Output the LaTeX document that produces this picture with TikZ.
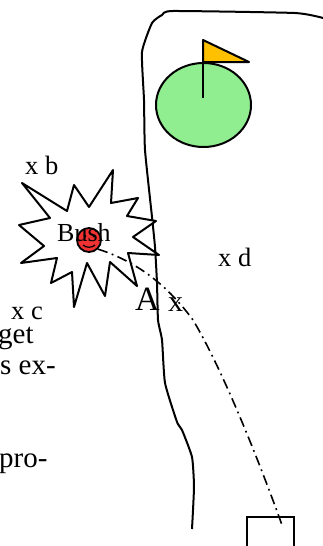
\documentclass[tikz,border=0pt]{standalone}
\usepackage{fontspec}
\usetikzlibrary{shapes.geometric}
\setmainfont{Liberation Serif}
\definecolor{greenfill}{RGB}{144,238,144}
\definecolor{flagfill}{RGB}{255,192,0}
\definecolor{ballfill}{RGB}{240,50,50}
\tikzset{
  ln/.style={draw=black,line width=2pt,line join=round},
  lbl/.style={inner sep=0pt,anchor=base west,text=black,font=\fontsize{#1}{#1}\selectfont},
  shot/.style={draw=black,line width=1.6pt,dash pattern=on 10pt off 4.5pt on 1.8pt off 4.5pt}
}
\begin{document}
\begin{tikzpicture}[x=1pt,y=-1pt]
\useasboundingbox (0,0) rectangle (323,546);
\clip (0,0) rectangle (323,546);
\fill[white] (0,0) rectangle (323,546);
% fairway edge
\draw[ln] plot[smooth,tension=0.3] coordinates {(192,529) (194,487) (192,457) (182,430) (177,422) (165,383) (162,340) (158,320) (157,283) (155,247) (152,217) (145,150) (144,100) (142,52) (152,23) (162,15) (173,11) (295,13) (323,18)};
% green and flag
\node[ln,fill=greenfill,ellipse,inner sep=0pt,minimum width=95pt,minimum height=84pt] (green) at (203.5,105) {};
\coordinate (poletop) at (203,40);
\coordinate (polefoot) at (203,98);
\coordinate (flagtip) at (249,62);
\coordinate (flagbase) at (203,62);
\draw[ln,fill=flagfill] (poletop) -- (flagtip) -- (flagbase) -- cycle;
\draw[ln] (poletop) -- (polefoot);
% bush
\draw[ln,fill=white] (22,183) -- (50,218) -- (19,225) -- (44,246) -- (21,263) -- (57,258) -- (51,283) -- (72,272) -- (74,307) -- (87,263) -- (105,296) -- (110,262) -- (137,286) -- (128,253) -- (159,255) -- (133,237) -- (156,221) -- (127,216) -- (138,198) -- (111,203) -- (113,170) -- (89,207) -- (74,185) -- (67,211) -- cycle;
\node[circle,draw=black,line width=1.8pt,fill=ballfill,inner sep=0pt,minimum size=24pt] (ball) at (89,240) {};
\coordinate (eyeL) at (85,236);
\coordinate (eyeR) at (94,236);
\fill (eyeL) circle (1.5pt) (eyeR) circle (1.5pt);
\draw[line width=1.2pt] (83,245) .. controls (86,248) and (92,248) .. (95,245);
% tee box
\node[draw=black,line width=2pt,inner sep=0pt,minimum width=47pt,minimum height=60pt,anchor=north west] (tee) at (246,516) {};
% shot
\coordinate (shotend) at (282,525);
\draw[shot] (ball.south east) .. controls (125,258) and (160,275) .. (193,320) .. controls (220,365) and (255,450) .. (shotend);
% labels
\node[lbl=26.5] (xb) at (25,174) {x b};
\node[lbl=26] (bush) at (57,241) {Bush};
\node[lbl=26.5] (xc) at (11,319) {x c};
\node[lbl=26.5] (xd) at (218,266) {x d};
\node[lbl=34] (a) at (135,310) {A};
\node[lbl=30] (x) at (168,311) {x};
\node[lbl=29] (get) at (-2,343) {get};
\node[lbl=29] (sex) at (0,374) {s ex-};
\node[lbl=29] (pro) at (-1,467) {pro-};
\end{tikzpicture}
\end{document}
